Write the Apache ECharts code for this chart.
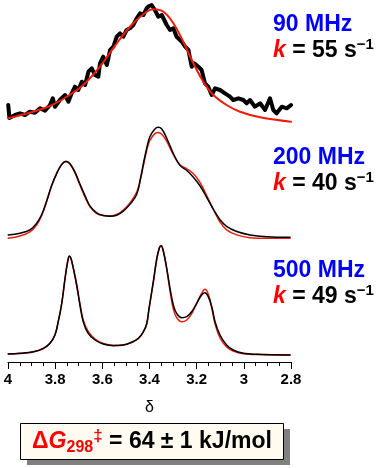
<!DOCTYPE html>
<html><head><meta charset="utf-8">
<script src="https://cdn.jsdelivr.net/npm/echarts@6/dist/echarts.min.js"></script>
<style>html,body{margin:0;padding:0;background:#fff}#c{width:388px;height:468px}</style>
</head><body><div id="c"></div>
<script>
// ---- data (δ in ppm, intensity in arbitrary units) ----
const xTickValues = [4, 3.8, 3.6, 3.4, 3.2, 3, 2.8];
const xTickLabels = ['4', '3.8', '3.6', '3.4', '3.2', '3', '2.8'];

// 90 MHz
const x90exp = [3.999, 3.994, 3.970, 3.949, 3.928, 3.907, 3.886, 3.864, 3.843, 3.822, 3.810, 3.801, 3.780, 3.758, 3.744, 3.730, 3.716, 3.702, 3.687, 3.673, 3.659, 3.645, 3.631, 3.617, 3.610, 3.596, 3.581, 3.567, 3.553, 3.539, 3.525, 3.511, 3.497, 3.483, 3.469, 3.454, 3.440, 3.426, 3.412, 3.402, 3.391, 3.377, 3.363, 3.348, 3.327, 3.313, 3.299, 3.285, 3.263, 3.249, 3.235, 3.228, 3.221, 3.210, 3.193, 3.179, 3.165, 3.151, 3.136, 3.122, 3.101, 3.080, 3.059, 3.045, 3.023, 3.002, 2.988, 2.974, 2.953, 2.931, 2.910, 2.889, 2.875, 2.861, 2.839, 2.818, 2.800];
const y90exp = [20, 7, 10, 11.7, 10, 13.3, 12.3, 16.7, 14.3, 20, 26.7, 18.3, 25, 30, 23.3, 31.7, 38.3, 35, 43.3, 40, 53.3, 56.7, 50, 48.3, 61.7, 68.3, 60, 75, 78.3, 88.3, 91.7, 88.3, 95, 96.7, 100, 106.7, 111.7, 110, 116.7, 119, 120, 115, 108.3, 110, 100, 95, 96.7, 88.3, 83.3, 78.3, 75, 66.7, 58.3, 61.7, 58.3, 55, 41.7, 38.3, 30, 36.7, 35, 31.7, 28.3, 25, 26.7, 25, 21.7, 25, 18.3, 21.7, 15, 26.7, 15, 11.7, 18.3, 16.7, 20];
const x90fit = [3.999, 3.893, 3.822, 3.751, 3.681, 3.610, 3.539, 3.469, 3.412, 3.384, 3.341, 3.299, 3.257, 3.214, 3.172, 3.129, 3.073, 3.016, 2.931, 2.800];
const y90fit = [6.7, 13.3, 19, 28.3, 40, 58.3, 81.7, 101.7, 113.3, 115.7, 113.3, 101.7, 83.3, 61.7, 43.3, 30, 20, 13.3, 7.7, 3.3];

// 200 MHz
const x200 = [3.999, 3.949, 3.907, 3.878, 3.857, 3.836, 3.815, 3.794, 3.772, 3.754, 3.737, 3.716, 3.695, 3.673, 3.652, 3.624, 3.596, 3.567, 3.539, 3.511, 3.483, 3.454, 3.437, 3.426, 3.412, 3.398, 3.377, 3.363, 3.348, 3.327, 3.299, 3.271, 3.242, 3.214, 3.186, 3.157, 3.129, 3.101, 3.073, 3.030, 2.974, 2.903, 2.804];
const y200exp = [3, 4.7, 8, 14.7, 23, 36.3, 51.3, 63, 72.3, 75.3, 73, 64.7, 53, 41.3, 31.3, 24.7, 22, 21.3, 22.3, 26.3, 33, 43, 59.7, 73, 88, 99.7, 107, 108.7, 107, 98, 83, 71.3, 66.3, 59.7, 51.3, 39.7, 28, 18, 11.3, 6.3, 3, 1.3, 0.7];
const y200fit = [-0.3, 2, 6, 13, 22, 36, 51.5, 63.5, 72.5, 75, 72.5, 64, 52, 40, 30.5, 24, 22, 21.7, 23, 27.5, 34.5, 45, 59, 71, 86, 96, 102.5, 103.7, 102, 95, 82, 72, 68, 63, 54.7, 41.3, 28, 15.7, 8, 3, 0.3, -0.3, -0.3];

// 500 MHz
const x500 = [3.999, 3.949, 3.893, 3.850, 3.822, 3.801, 3.787, 3.772, 3.758, 3.747, 3.740, 3.733, 3.723, 3.709, 3.695, 3.681, 3.660, 3.631, 3.596, 3.553, 3.511, 3.476, 3.447, 3.426, 3.412, 3.402, 3.384, 3.369, 3.358, 3.351, 3.341, 3.327, 3.313, 3.299, 3.285, 3.263, 3.242, 3.221, 3.200, 3.179, 3.165, 3.151, 3.136, 3.122, 3.101, 3.073, 3.045, 3.002, 2.945, 2.804];
const y500exp = [1, 1.7, 3.3, 6.7, 11.7, 20, 33.3, 51.7, 76.7, 93.3, 99, 96.7, 86.7, 70, 50, 33.3, 21.7, 15, 11, 9.3, 10, 12.7, 16.7, 23.3, 31, 46.7, 73.3, 96.7, 107.3, 109.3, 103.3, 86.7, 66.7, 50, 41.7, 37.3, 38.3, 43.3, 51.7, 60, 62.3, 58.3, 48.3, 33.3, 20, 10, 5, 1.7, 0.7, 0];
const y500fit = [1, 1.5, 3, 6.5, 11.7, 20, 33.3, 52, 77, 93.5, 98.5, 96, 87, 71, 51.5, 35, 23.5, 16, 11.5, 9.7, 10, 12.5, 16.5, 23, 31, 46, 72, 96, 107, 109.5, 104, 86, 64, 46, 37.5, 33.3, 35, 41.5, 51.5, 61.5, 65.7, 61, 47, 31, 17, 8, 4, 1.3, 0.5, 0];

const fields = ['90 MHz', '200 MHz', '500 MHz'];
const rates = ['55', '40', '49'];

// ---- chart ----
const FONT = '"Liberation Sans", Arial, sans-serif';
const RED_LINE = '#ee1c0c';
const zip = (xs, ys) => xs.map((x, i) => [x, ys[i]]);

const baseX = { type: 'value', min: 2.8, max: 4, interval: 0.2, inverse: true };
const hiddenX = i => Object.assign({}, baseX, { gridIndex: i, show: false });
const hiddenY = (i, min, max) => ({ type: 'value', gridIndex: i, min, max, show: false });

function line(xi, data, color, width, z, smooth) {
  return { type: 'line', xAxisIndex: xi, yAxisIndex: xi, data, showSymbol: false, symbol: 'none',
    smooth: smooth, clip: false, z, lineStyle: { color, width, join: 'round', cap: 'round' }, silent: true, animation: false };
}

function labelText(i, yMHz, yK) {
  return [
    { type: 'text', x: 273, y: yMHz, style: { text: fields[i], font: 'bold 23px ' + FONT, fill: '#0000ff', verticalAlign: 'middle' } },
    { type: 'text', x: 273, y: yK, style: {
        text: '{k|k}{t| = ' + rates[i] + ' s}{s|−1}', verticalAlign: 'middle',
        rich: {
          k: { font: 'italic bold 23px ' + FONT, fill: '#ff0000', lineHeight: 26 },
          t: { font: 'bold 23px ' + FONT, fill: '#000', lineHeight: 26 },
          s: { font: 'bold 15px ' + FONT, fill: '#000', verticalAlign: 'top', lineHeight: 26 }
        } } }
  ];
}

const option = {
  backgroundColor: '#fff',
  animation: false,
  grid: [
    { left: 8, right: 97, top: 5, height: 120 },
    { left: 8, right: 97, top: 125, height: 115 },
    { left: 8, right: 97, top: 245, height: 110 }
  ],
  xAxis: [
    hiddenX(0), hiddenX(1),
    Object.assign({}, baseX, {
      gridIndex: 2, position: 'bottom', offset: 7,
      axisLine: { show: true, onZero: false, lineStyle: { color: '#000', width: 1 } },
      axisTick: { show: true, inside: false, length: 7, lineStyle: { color: '#000', width: 1 } },
      minorTick: { show: true, splitNumber: 4, length: 4, lineStyle: { color: '#000', width: 1 } },
      splitLine: { show: false },
      axisLabel: { color: '#000', fontFamily: FONT, fontWeight: 'bold', fontSize: 15, margin: 10,
        formatter: v => { const k = xTickValues.findIndex(t => Math.abs(t - v) < 1e-6); return k >= 0 ? xTickLabels[k] : ''; } },
      name: 'δ', nameLocation: 'middle', nameGap: 38,
      nameTextStyle: { color: '#000', fontFamily: FONT, fontSize: 16 }
    })
  ],
  yAxis: [hiddenY(0, 0, 120), hiddenY(1, -2, 111), hiddenY(2, 0, 110)],
  series: [
    line(0, zip(x90exp, y90exp), '#000', 4, 2, false),
    line(0, zip(x90fit, y90fit), RED_LINE, 2, 3, 0.4),
    line(1, zip(x200, y200fit), RED_LINE, 1.5, 2, 0.4),
    line(1, zip(x200, y200exp), '#000', 1.5, 3, 0.4),
    line(2, zip(x500, y500fit), RED_LINE, 1.5, 2, 0.4),
    line(2, zip(x500, y500exp), '#000', 1.5, 3, 0.4)
  ],
  graphic: [
    ...labelText(0, 24.2, 50.3), ...labelText(1, 157.5, 183.5), ...labelText(2, 270.5, 296.5),
    { type: 'rect', shape: { x: 27, y: 429, width: 263, height: 36 }, style: { fill: '#808080' }, z: 10 },
    { type: 'rect', shape: { x: 20.5, y: 423.5, width: 263, height: 36 }, style: { fill: '#fffbf0', stroke: '#000', lineWidth: 1 }, z: 11 },
    { type: 'text', z: 12, x: 152, y: 442, style: {
        text: '{d|Δ}{g|G}{b|298}{p|‡}{t| = 64 ± 1 kJ/mol}',
        align: 'center', verticalAlign: 'middle',
        rich: {
          d: { font: 'bold 23px ' + FONT, fill: '#ff0000', lineHeight: 28 },
          g: { font: 'italic bold 23px ' + FONT, fill: '#ff0000', lineHeight: 28 },
          b: { font: 'bold 16px ' + FONT, fill: '#ff0000', verticalAlign: 'bottom', lineHeight: 28 },
          p: { font: 'bold 17px ' + FONT, fill: '#ff0000', verticalAlign: 'top', lineHeight: 28 },
          t: { font: 'bold 23px ' + FONT, fill: '#000', lineHeight: 28 }
        } } }
  ]
};
echarts.init(document.getElementById('c'), null, { renderer: 'canvas' }).setOption(option);
</script></body></html>
